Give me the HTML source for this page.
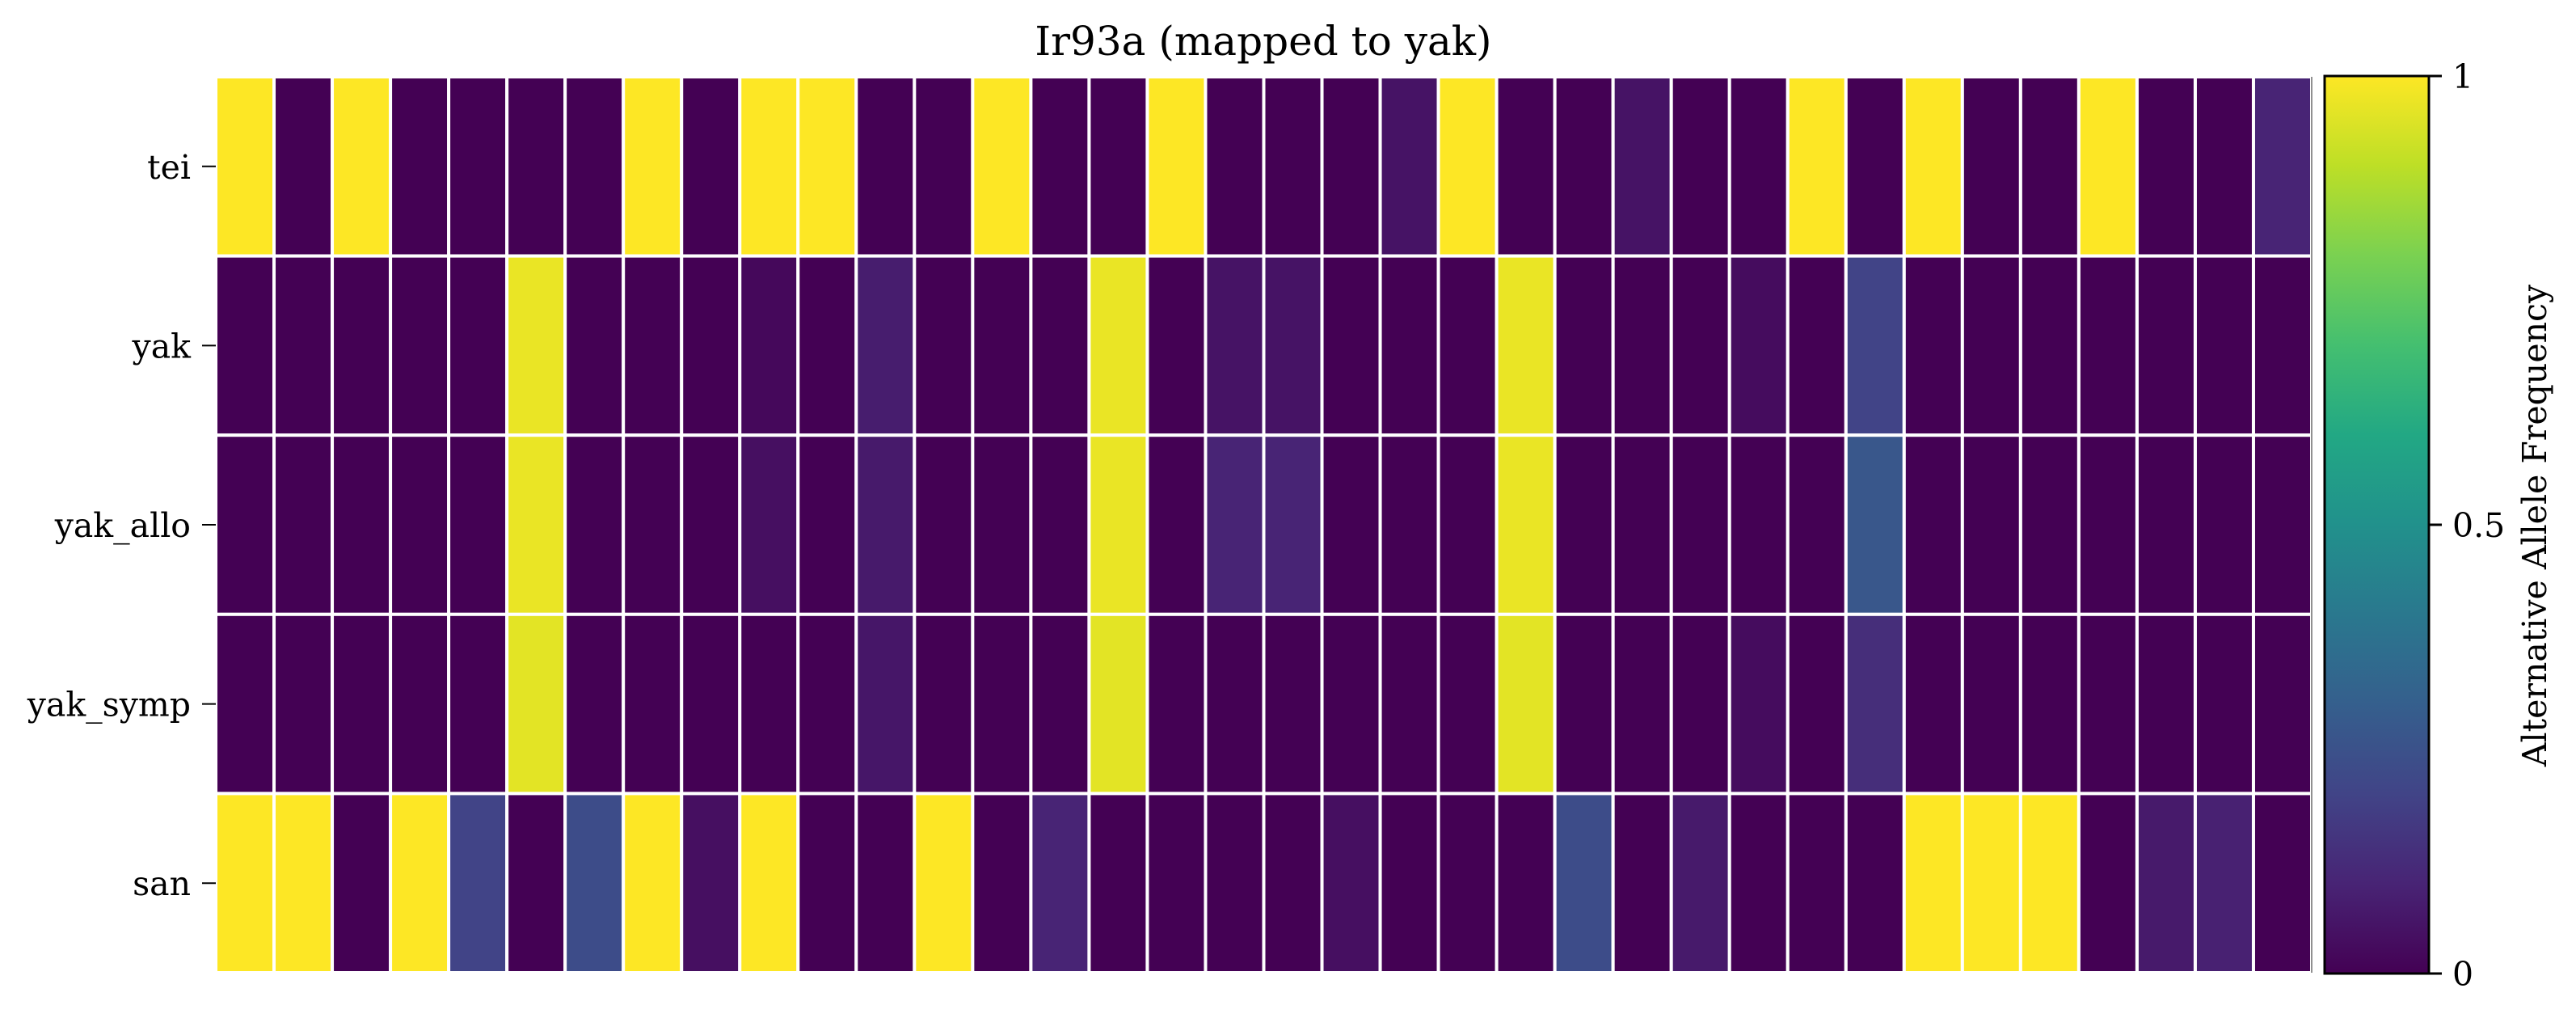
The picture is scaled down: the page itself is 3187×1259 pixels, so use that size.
<!DOCTYPE html>
<html><head><meta charset="utf-8"><style>
html,body{margin:0;padding:0;background:#fff;}
svg{display:block;font-family:"DejaVu Serif","Liberation Serif",serif;}
</style></head><body>
<svg id="chart" width="3187" height="1259" viewBox="0 0 3187 1259" xmlns="http://www.w3.org/2000/svg">
<defs>
<linearGradient id="vir" x1="0" y1="1" x2="0" y2="0">
<stop offset="0" stop-color="#440154"/><stop offset="0.1" stop-color="#482475"/><stop offset="0.2" stop-color="#414487"/><stop offset="0.3" stop-color="#355f8d"/><stop offset="0.4" stop-color="#2a788e"/><stop offset="0.5" stop-color="#21918c"/><stop offset="0.6" stop-color="#22a884"/><stop offset="0.7" stop-color="#44bf70"/><stop offset="0.8" stop-color="#7ad151"/><stop offset="0.9" stop-color="#bddf26"/><stop offset="1" stop-color="#fde725"/>
</linearGradient>
</defs>
<text x="1563" y="68" font-size="50" text-anchor="middle">Ir93a (mapped to yak)</text>
<g id="cells"></g>
<g id="yaxis"></g>
<line x1="2860" y1="95" x2="2860" y2="1203" stroke="#222" stroke-width="1"/>
<rect x="2876" y="94" width="129" height="1110" fill="url(#vir)" stroke="#000" stroke-width="3"/>
<g id="cbticks"></g>
<text transform="translate(3150,650) rotate(-90)" font-size="41" text-anchor="middle">Alternative Allele Frequency</text>
</svg>
<script>
const rowLabels = ["tei","yak","yak_allo","yak_symp","san"];
const teiVals = [1,0,1,0,0,0,0,1,0,1,1,0,0,1,0,0,1,0,0,0,0.05,1,0,0,0.05,0,0,1,0,1,0,0,1,0,0,0.1];
const yakVals = [0,0,0,0,0,0.97,0,0,0,0.02,0,0.08,0,0,0,0.97,0,0.05,0.05,0,0,0,0.97,0,0,0,0.03,0,0.2,0,0,0,0,0,0,0];
const yakAlloVals = [0,0,0,0,0,0.97,0,0,0,0.04,0,0.07,0,0,0,0.97,0,0.1,0.1,0,0,0,0.97,0,0,0,0,0,0.27,0,0,0,0,0,0,0];
const yakSympVals = [0,0,0,0,0,0.96,0,0,0,0,0,0.06,0,0,0,0.96,0,0,0,0,0,0,0.96,0,0,0,0.03,0,0.13,0,0,0,0,0,0,0];
const sanVals = [1,1,0,1,0.2,0,0.23,1,0.04,1,0,0,1,0,0.1,0,0,0,0,0.04,0,0,0,0.23,0,0.07,0,0,0,1,1,1,0,0.07,0.09,0];
const cbTickVals = [0,0.5,1];
const cbTickLabels = ["0","0.5","1"];

const matrix = [teiVals,yakVals,yakAlloVals,yakSympVals,sanVals];
const NS = "http://www.w3.org/2000/svg";
const X0=267, X1=2860, Y0=95, Y1=1203;
const nCols = teiVals.length, nRows = rowLabels.length;
const cw = (X1-X0)/nCols, rh = (Y1-Y0)/nRows;
const xs = i => X0 + i*cw;
const ys = j => Y0 + j*rh;
const cbY = v => 1204 - v*(1204-94);
const stops = ["#440154","#482475","#414487","#355f8d","#2a788e","#21918c","#22a884","#44bf70","#7ad151","#bddf26","#fde725"];
function hex(h){return [1,3,5].map(k=>parseInt(h.substr(k,2),16));}
function viridis(v){
  v=Math.max(0,Math.min(1,v)); const p=v*10, i=Math.min(9,Math.floor(p)), t=p-i;
  const a=hex(stops[i]), b=hex(stops[i+1]);
  return "rgb("+a.map((c,k)=>Math.round(c+(b[k]-c)*t)).join(",")+")";
}
const cells=document.getElementById("cells");
matrix.forEach((row,j)=>{
  row.forEach((v,i)=>{
    const r=document.createElementNS(NS,"rect");
    r.setAttribute("x",xs(i)); r.setAttribute("y",ys(j));
    r.setAttribute("width",cw); r.setAttribute("height",rh);
    r.setAttribute("fill",viridis(v)); r.setAttribute("stroke","#fff"); r.setAttribute("stroke-width","4");
    
    
    cells.appendChild(r);
  });
});
const ya=document.getElementById("yaxis");
rowLabels.forEach((lab,j)=>{
  const cy=ys(j)+rh/2;
  const t=document.createElementNS(NS,"line");
  t.setAttribute("x1",X0-17); t.setAttribute("x2",X0); t.setAttribute("y1",cy); t.setAttribute("y2",cy);
  t.setAttribute("stroke","#000"); t.setAttribute("stroke-width","2");
  
  
  ya.appendChild(t);
  const tx=document.createElementNS(NS,"text");
  tx.setAttribute("x",X0-31); tx.setAttribute("y",cy+15); tx.setAttribute("font-size","41"); tx.setAttribute("text-anchor","end");
  tx.textContent=lab;
  
  
  ya.appendChild(tx);
});
const cb=document.getElementById("cbticks");
cbTickVals.forEach((v,k)=>{
  const y=cbY(v);
  const t=document.createElementNS(NS,"line");
  t.setAttribute("x1",3005); t.setAttribute("x2",3021); t.setAttribute("y1",y); t.setAttribute("y2",y);
  t.setAttribute("stroke","#000"); t.setAttribute("stroke-width","3");
  
  
  cb.appendChild(t);
  const tx=document.createElementNS(NS,"text");
  tx.setAttribute("x",3034); tx.setAttribute("y",y+15); tx.setAttribute("font-size","41");
  tx.textContent=cbTickLabels[k];
  
  
  cb.appendChild(tx);
});
</script>
</body></html>
